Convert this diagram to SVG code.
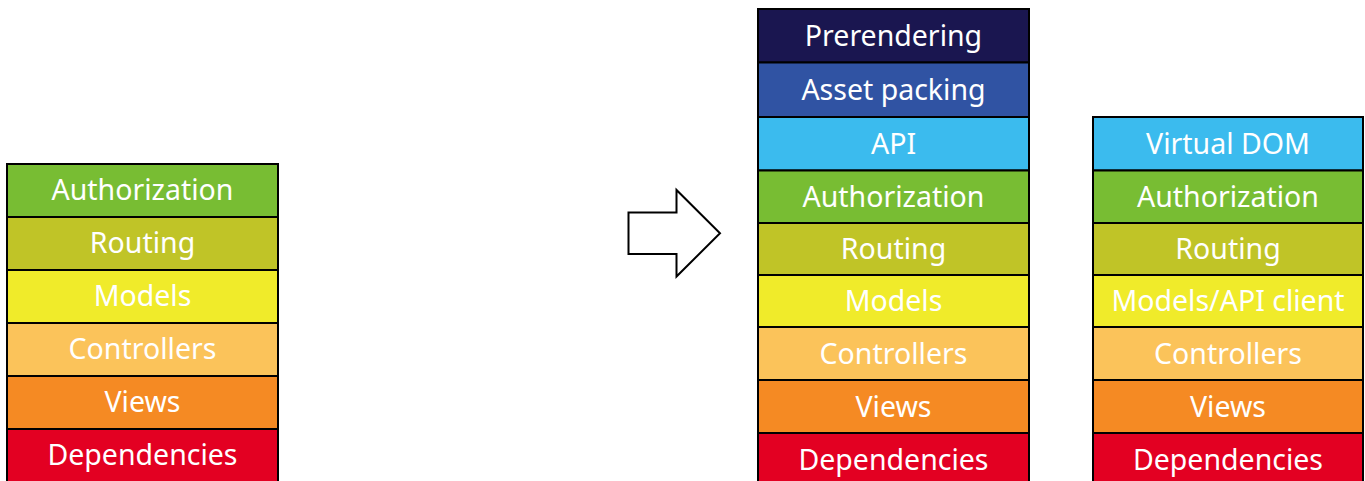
<svg xmlns="http://www.w3.org/2000/svg" width="1365" height="481" viewBox="0 0 1365 481">
<style>
.s{stroke:#000;stroke-width:2}
text{font-family:"Noto Sans","Open Sans",sans-serif;font-size:28.5px;fill:#fff;text-anchor:middle}
.auth{fill:#78BD33}.rout{fill:#C0C427}.mod{fill:#F0EB2A}.ctrl{fill:#FBC35A}.view{fill:#F58A23}.dep{fill:#E30022}
.pre{fill:#1A1650}.asset{fill:#3053A3}.api{fill:#3BBBEE}
</style>
<rect width="1365" height="481" fill="#fff"/>
<g id="stack-left">
<g id="l-auth"><rect class="s auth" x="7" y="164" width="271" height="53"/><text x="142.5" y="200">Authorization</text></g>
<g id="l-rout"><rect class="s rout" x="7" y="217" width="271" height="53"/><text x="142.5" y="253">Routing</text></g>
<g id="l-mod"><rect class="s mod" x="7" y="270" width="271" height="53"/><text x="142.5" y="306">Models</text></g>
<g id="l-ctrl"><rect class="s ctrl" x="7" y="323" width="271" height="53"/><text x="142.5" y="359">Controllers</text></g>
<g id="l-view"><rect class="s view" x="7" y="376" width="271" height="53"/><text x="142.5" y="412">Views</text></g>
<g id="l-dep"><rect class="s dep" x="7" y="429" width="271" height="60"/><text x="142.5" y="465">Dependencies</text></g>
</g>
<g id="connectors">
<polygon points="628.5,212.5 676.5,212.5 676.5,190 720,233.3 676.5,276.5 676.5,254 628.5,254" fill="#fff" stroke="#000" stroke-width="2"/>
</g>
<g id="stack-middle">
<g id="m-pre"><rect class="s pre" x="758" y="9" width="271" height="53.5"/><text x="893.5" y="45.5">Prerendering</text></g>
<g id="m-asset"><rect class="s asset" x="758" y="62.5" width="271" height="54.5"/><text x="893.5" y="100">Asset packing</text></g>
<g id="m-api"><rect class="s api" x="758" y="117" width="271" height="53.5"/><text x="893.5" y="154">API</text></g>
<g id="m-auth"><rect class="s auth" x="758" y="170.5" width="271" height="52.5"/><text x="893.5" y="206.5">Authorization</text></g>
<g id="m-rout"><rect class="s rout" x="758" y="223" width="271" height="52"/><text x="893.5" y="259">Routing</text></g>
<g id="m-mod"><rect class="s mod" x="758" y="275" width="271" height="52"/><text x="893.5" y="311">Models</text></g>
<g id="m-ctrl"><rect class="s ctrl" x="758" y="327" width="271" height="53"/><text x="893.5" y="363.5">Controllers</text></g>
<g id="m-view"><rect class="s view" x="758" y="380" width="271" height="53"/><text x="893.5" y="416.5">Views</text></g>
<g id="m-dep"><rect class="s dep" x="758" y="433" width="271" height="60"/><text x="893.5" y="469.5">Dependencies</text></g>
</g>
<g id="stack-right">
<g id="r-vdom"><rect class="s api" x="1093" y="117" width="270" height="53.5"/><text x="1228" y="154">Virtual DOM</text></g>
<g id="r-auth"><rect class="s auth" x="1093" y="170.5" width="270" height="52.5"/><text x="1228" y="206.5">Authorization</text></g>
<g id="r-rout"><rect class="s rout" x="1093" y="223" width="270" height="52"/><text x="1228" y="259">Routing</text></g>
<g id="r-mod"><rect class="s mod" x="1093" y="275" width="270" height="52"/><text x="1228" y="311">Models/API client</text></g>
<g id="r-ctrl"><rect class="s ctrl" x="1093" y="327" width="270" height="53"/><text x="1228" y="363.5">Controllers</text></g>
<g id="r-view"><rect class="s view" x="1093" y="380" width="270" height="53"/><text x="1228" y="416.5">Views</text></g>
<g id="r-dep"><rect class="s dep" x="1093" y="433" width="270" height="60"/><text x="1228" y="469.5">Dependencies</text></g>
</g>
</svg>
